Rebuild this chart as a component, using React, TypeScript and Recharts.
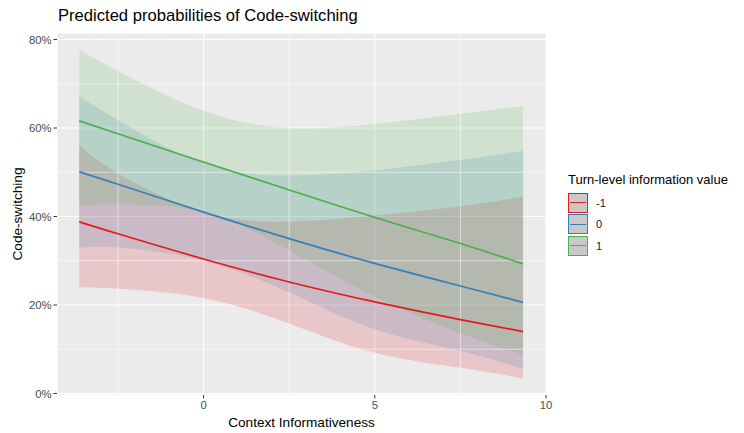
import React from 'react';
import {
  ComposedChart, Area, Line, XAxis, YAxis, CartesianGrid, ReferenceLine, Label,
} from 'recharts';

const xValues = [-3.63, -2.5, 0, 2.5, 5, 7.5, 9.33];

const redFit = [38.8, 36.1, 30.4, 25.2, 20.7, 16.7, 14.0];
const redLow = [24.0, 23.7, 21.6, 15.8, 9.2, 5.8, 3.4];
const redHigh = [56.1, 49.8, 41.0, 38.8, 40.2, 42.3, 44.5];

const blueFit = [50.1, 47.3, 41.0, 35.0, 29.4, 24.3, 20.6];
const blueLow = [32.9, 33.0, 30.0, 22.8, 14.5, 9.6, 5.5];
const blueHigh = [67.2, 61.8, 52.0, 49.3, 50.4, 52.8, 54.8];

const greenFit = [61.6, 58.7, 52.3, 46.0, 39.8, 33.9, 29.3];
const greenLow = [42.6, 42.7, 41.0, 32.4, 21.9, 13.6, 8.7];
const greenHigh = [77.6, 72.9, 63.9, 60.0, 60.9, 63.2, 65.0];

const xTicks = [0, 5, 10];
const yTicks = [0, 20, 40, 60, 80];
const xMinor = [-2.5, 2.5, 7.5];
const yMinor = [10, 30, 50, 70];

const groups = [
  { key: 'red', label: '-1', color: '#E41A1C' },
  { key: 'blue', label: '0', color: '#377EB8' },
  { key: 'green', label: '1', color: '#4DAF4A' },
];

const data = xValues.map((x, i) => ({
  x,
  redFit: redFit[i],
  redBand: [redLow[i], redHigh[i]],
  blueFit: blueFit[i],
  blueBand: [blueLow[i], blueHigh[i]],
  greenFit: greenFit[i],
  greenBand: [greenLow[i], greenHigh[i]],
}));

const FONT = '"Liberation Sans", Arial, Helvetica, sans-serif';

const LegendBox = () => (
  <div style={{ position: 'absolute', left: 568, top: 172, fontFamily: FONT, color: '#000' }}>
    <div style={{ fontSize: 13, lineHeight: '16px', marginBottom: 4, whiteSpace: 'nowrap' }}>
      Turn-level information value
    </div>
    {groups.map((g) => (
      <div key={g.key} style={{ display: 'flex', alignItems: 'center', height: 21.5 }}>
        <div
          style={{
            width: 18, height: 18, border: `1.3px solid ${g.color}`, background: '#C9C9C9',
            position: 'relative', boxSizing: 'content-box',
          }}
        >
          <div style={{ position: 'absolute', left: 1, right: 1, top: 8.3, height: 1.4, background: g.color }} />
        </div>
        <span style={{ fontSize: 11, marginLeft: 8, color: '#1A1A1A' }}>{g.label}</span>
      </div>
    ))}
  </div>
);

export default function App() {
  return (
    <div style={{ position: 'absolute', left: 0, top: 0, width: 744, height: 433, background: '#fff' }}>
      <div
        style={{
          position: 'absolute', left: 58, top: 6, fontFamily: FONT, fontSize: 16.6, color: '#000',
          whiteSpace: 'nowrap',
        }}
      >
        Predicted probabilities of Code-switching
      </div>
      <ComposedChart
        width={744}
        height={433}
        data={data}
        margin={{ top: 33, right: 198, bottom: 0, left: 0 }}
      >
        <CartesianGrid fill="#EBEBEB" stroke="#FFFFFF" strokeWidth={1.1} strokeDasharray="" />
        {xMinor.map((v) => (
          <ReferenceLine key={`xm${v}`} x={v} stroke="#FFFFFF" strokeWidth={0.55} />
        ))}
        {yMinor.map((v) => (
          <ReferenceLine key={`ym${v}`} y={v} stroke="#FFFFFF" strokeWidth={0.55} />
        ))}
        <XAxis
          dataKey="x"
          type="number"
          domain={[-4.28, 10.0]}
          ticks={xTicks}
          allowDataOverflow
          axisLine={false}
          tickLine={{ stroke: '#333333' }}
          tickSize={3.5}
          height={38}
          tick={{ fill: '#4D4D4D', fontSize: 11.3, fontFamily: FONT }}
        >
          <Label
            content={() => (
              <text x={301.5} y={427} textAnchor="middle" fontFamily={FONT} fontSize={13.6} fill="#000">
                Context Informativeness
              </text>
            )}
          />
        </XAxis>
        <YAxis
          type="number"
          domain={[-0.34, 81.47]}
          ticks={yTicks}
          allowDataOverflow
          axisLine={false}
          tickLine={{ stroke: '#333333' }}
          tickSize={3.5}
          width={57}
          tickFormatter={(v: number) => `${v}%`}
          tick={{ fill: '#4D4D4D', fontSize: 11.3, fontFamily: FONT }}
        >
          <Label
            content={() => (
              <text
                x={22}
                y={214}
                textAnchor="middle"
                transform="rotate(-90 22 214)"
                fontFamily={FONT}
                fontSize={13.6}
                fill="#000"
              >
                Code-switching
              </text>
            )}
          />
        </YAxis>
        {groups.map((g) => (
          <Area
            key={`${g.key}Band`}
            dataKey={`${g.key}Band`}
            type="natural"
            fill={g.color}
            fillOpacity={0.17}
            stroke="none"
            isAnimationActive={false}
            legendType="none"
          />
        ))}
        {groups.map((g) => (
          <Line
            key={`${g.key}Fit`}
            dataKey={`${g.key}Fit`}
            type="natural"
            stroke={g.color}
            strokeWidth={1.7}
            dot={false}
            activeDot={false}
            isAnimationActive={false}
          />
        ))}
      </ComposedChart>
      <LegendBox />
    </div>
  );
}
